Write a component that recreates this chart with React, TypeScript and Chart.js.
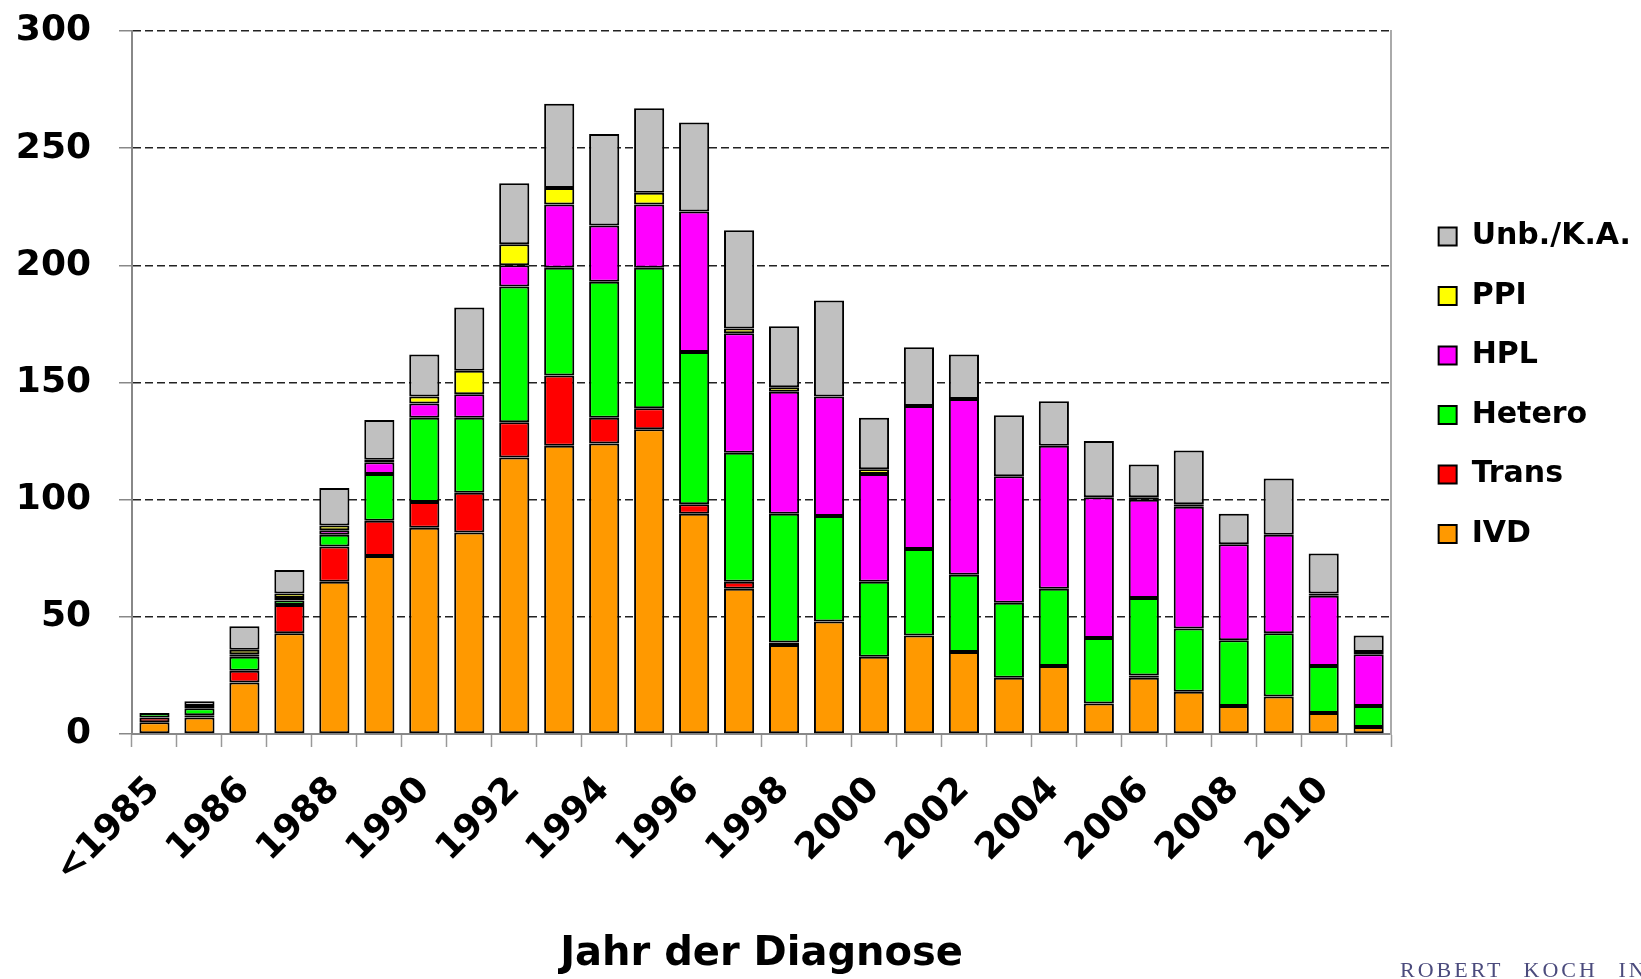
import React, { useEffect, useRef } from 'react';
import { Chart, registerables } from 'chart.js';

Chart.register(...registerables);

const categories = [
  '<1985', '1985', '1986', '1987', '1988', '1989', '1990', '1991', '1992', '1993',
  '1994', '1995', '1996', '1997', '1998', '1999', '2000', '2001', '2002', '2003',
  '2004', '2005', '2006', '2007', '2008', '2009', '2010', '2011',
];

const ivd = [5, 7, 22, 43, 65, 76, 88, 86, 118, 123, 124, 130, 94, 62, 38, 48, 33, 42, 35, 24, 29, 13, 24, 18, 12, 16, 9, 3];
const trans = [2, 1, 5, 12, 15, 15, 11, 17, 15, 30, 11, 9, 4, 3, 1, 0, 0, 0, 0, 0, 0, 0, 1, 0, 0, 0, 0, 0];
const hetero = [2, 3, 6, 2, 5, 20, 36, 32, 58, 46, 58, 60, 65, 55, 55, 45, 32, 37, 33, 32, 33, 28, 33, 27, 28, 27, 20, 9];
const hpl = [0, 0, 1, 1, 2, 5, 6, 10, 9, 27, 24, 27, 60, 51, 52, 51, 46, 61, 75, 54, 61, 60, 42, 52, 41, 42, 30, 22];
const ppi = [0, 1, 2, 2, 2, 1, 3, 10, 9, 7, 0, 5, 0, 2, 2, 0, 2, 0, 0, 0, 0, 0, 1, 1, 0, 0, 1, 1];
const unb = [0, 2, 10, 10, 16, 17, 18, 27, 26, 36, 39, 36, 38, 42, 26, 41, 22, 25, 19, 26, 19, 24, 14, 23, 13, 24, 17, 7];

const seriesNames = ['IVD', 'Trans', 'Hetero', 'HPL', 'PPI', 'Unb./K.A.'];
const seriesColors = ['#FF9900', '#FF0000', '#00FF00', '#FF00FF', '#FFFF00', '#C0C0C0'];
const seriesValues = [ivd, trans, hetero, hpl, ppi, unb];

const yTicks = [0, 50, 100, 150, 200, 250, 300];

const FONT = 'DejaVu Sans';

export default function App() {
  const ref = useRef<HTMLCanvasElement>(null);

  useEffect(() => {
    document.body.style.margin = '0';
    const canvas = ref.current;
    if (!canvas) return;
    const chart = new Chart(canvas, {
      type: 'bar',
      data: {
        labels: categories,
        datasets: seriesValues.map((vals, i) => ({
          label: seriesNames[i],
          data: vals,
          backgroundColor: seriesColors[i],
          borderColor: '#000000',
          borderWidth: 2,
          borderSkipped: false,
          categoryPercentage: 1,
          barPercentage: 0.67,
        })),
      },
      options: {
        responsive: false,
        animation: false,
        layout: { padding: { top: 31, left: 0, right: 0, bottom: 0 } },
        plugins: {
          tooltip: { enabled: false },
          legend: {
            position: 'right',
            fullSize: false,
            reverse: true,
            maxWidth: 233,
            title: {
              display: true,
              text: ' ',
              font: { family: FONT, size: 4.6 },
              padding: { top: 0, bottom: 0 },
            },
            labels: {
              boxWidth: 18,
              boxHeight: 18,
              padding: 29.5,
              color: '#000',
              font: { family: FONT, size: 30, weight: 'bold' },
            },
          },
        },
        scales: {
          x: {
            stacked: true,
            grid: {
              drawOnChartArea: false,
              drawTicks: true,
              tickLength: 13,
              tickColor: '#999',
              tickWidth: 1.5,
              offset: true,
            },
            border: { display: true, color: '#888', width: 2 },
            ticks: {
              autoSkip: false,
              maxRotation: 45,
              minRotation: 45,
              padding: 22,
              color: '#000',
              font: { family: FONT, size: 36, weight: 'bold' },
              callback: (_v: any, i: number) => (i % 2 === 0 ? categories[i] : ''),
            },
            title: {
              display: true,
              text: 'Jahr der Diagnose',
              color: '#000',
              font: { family: FONT, size: 40, weight: 'bold' },
              padding: { top: 0, bottom: 0 },
            },
            afterFit: (s: any) => {
              s.height = 245;
            },
          },
          y: {
            stacked: true,
            min: 0,
            max: 300,
            afterBuildTicks: (s: any) => {
              s.ticks = yTicks.map((v) => ({ value: v }));
            },
            ticks: {
              stepSize: 50,
              padding: 28,
              color: '#000',
              font: { family: FONT, size: 36, weight: 'bold' },
            },
            grid: {
              color: (ctx: any) => (ctx.tick && ctx.tick.value === 0 ? 'rgba(0,0,0,0)' : '#222'),
              lineWidth: 1.5,
              tickLength: 13,
              tickColor: '#888',
              tickWidth: 1.5,
              tickBorderDash: [],
            },
            border: { display: true, color: '#888', width: 2, dash: [8, 4] },
            afterFit: (s: any) => {
              s.width = 132;
              s.paddingTop = 0;
              s.paddingBottom = 0;
            },
          },
          yR: {
            position: 'right',
            min: 0,
            max: 300,
            display: true,
            grid: { display: false, drawOnChartArea: false, drawTicks: false },
            ticks: { display: false },
            border: { display: true, color: '#aaa', width: 2 },
            afterFit: (s: any) => {
              s.width = 18;
              s.paddingTop = 0;
              s.paddingBottom = 0;
            },
          },
        },
      } as any,
    });
    return () => chart.destroy();
  }, []);

  return (
    <div style={{ position: 'relative', width: 1641, height: 979, overflow: 'hidden', background: '#fff' }}>
      <canvas ref={ref} width={1641} height={979} style={{ display: 'block' }} />
      <div
        style={{
          position: 'absolute',
          left: 1400,
          top: 958,
          fontFamily: '"Liberation Serif", serif',
          fontSize: 22,
          letterSpacing: 3,
          wordSpacing: 12,
          color: '#4b4b7d',
          whiteSpace: 'nowrap',
          lineHeight: '24px',
        }}
      >
        ROBERT KOCH INSTITUT
      </div>
    </div>
  );
}
